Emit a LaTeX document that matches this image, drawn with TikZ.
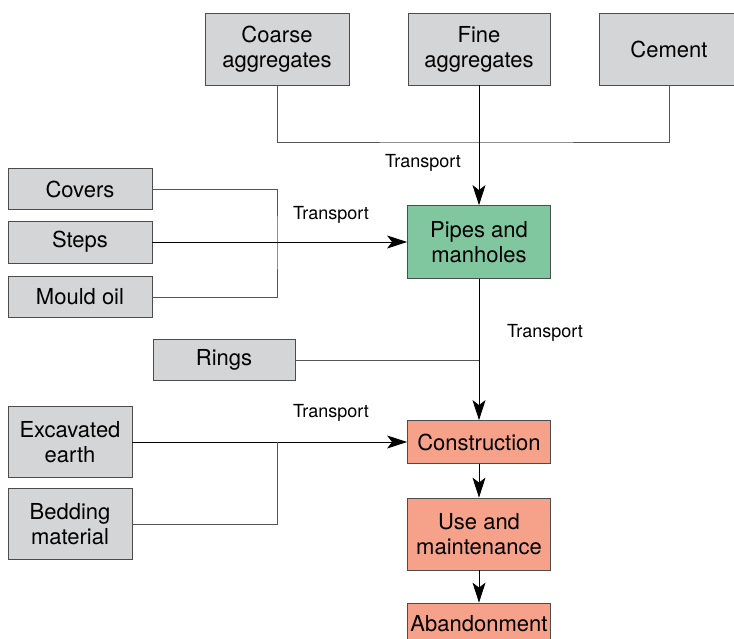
\documentclass[tikz,border=0pt]{standalone}
\usepackage{fontspec}
\setmainfont{TeX Gyre Heros}
\usetikzlibrary{arrows.meta, positioning, calc}
\definecolor{inputgray}{RGB}{212,213,215}
\definecolor{pipegreen}{RGB}{128,199,160}
\definecolor{stagesalmon}{RGB}{246,161,137}
\definecolor{wiregray}{RGB}{85,85,85}

\begin{document}
\begin{tikzpicture}[
    x=1pt, y=-1pt,
    item/.style={rectangle, draw=black!70, fill=#1, line width=0.8pt, inner sep=0pt,
                 align=center, font=\fontsize{22}{25}\selectfont},
    item/.default=inputgray,
    note/.style={font=\fontsize{18}{20}\selectfont, inner sep=0pt},
    wire/.style={line width=0.8pt, color=wiregray},
    flow/.style={-{Stealth[length=20pt, width=13pt, inset=5pt]}, line width=0.8pt, color=black}
]
\useasboundingbox (0,0) rectangle (734,639);
% raw materials
\node[item, minimum width=144pt, minimum height=72pt] (coarse) at (277,49) {Coarse\\aggregates};
\node[item, minimum width=142pt, minimum height=72pt] (fine) at (479,49) {Fine\\aggregates};
\node[item, minimum width=140pt, minimum height=72pt] (cement) at (669,49) {Cement};
% production
\node[item=pipegreen, minimum width=143pt, minimum height=73pt] (pipes) at (479,242) {Pipes and\\manholes};
\node[item, minimum width=144pt, minimum height=41pt] (covers) at (80,189) {Covers};
\node[item, minimum width=144pt, minimum height=42pt] (steps) at (80,242) {Steps};
\node[item, minimum width=144pt, minimum height=41pt] (mould) at (80,297) {Mould oil};
\node[item, minimum width=142pt, minimum height=41pt] (rings) at (224,360) {Rings};
% site
\node[item, minimum width=124pt, minimum height=71pt] (excav) at (70,442) {Excavated\\earth};
\node[item, minimum width=124pt, minimum height=71pt] (bedding) at (70,524) {Bedding\\material};
\node[item=stagesalmon, minimum width=143pt, minimum height=43pt] (constr) at (479,442) {Construction};
\node[item=stagesalmon, minimum width=143pt, minimum height=72pt] (use) at (479,534) {Use and\\maintenance};
\node[item=stagesalmon, minimum width=143pt, minimum height=42pt] (aband) at (479,624) {Abandonment};
% junctions
\coordinate (mix) at (479,142);
\coordinate (sidejoin) at (277,242);
\coordinate (bedjoin) at (277,442);
% connectors
\draw[wire] (coarse.south) |- (mix) -| (cement.south);
\draw[flow] (fine.south) -- (pipes.north);
\draw[wire] (covers.east) -| (sidejoin) |- (mould.east);
\draw[flow] (steps.east) -- (pipes.west);
\draw[flow] (pipes.south) -- (constr.north);
\draw[wire] (rings.east) -- (rings.east -| pipes.south);
\draw[flow] (excav.east) -- (constr.west);
\draw[wire] (bedding.east) -| (bedjoin);
\draw[flow] (constr.south) -- (use.north);
\draw[flow] (use.south) -- (aband.north);
% labels
\node[note] (tmix) at (423,163) {Transport};
\node[note] (tside) at (331,215) {Transport};
\node[note] (tpipes) at (545,333) {Transport};
\node[note] (tsite) at (331,413) {Transport};
\end{tikzpicture}
\end{document}
